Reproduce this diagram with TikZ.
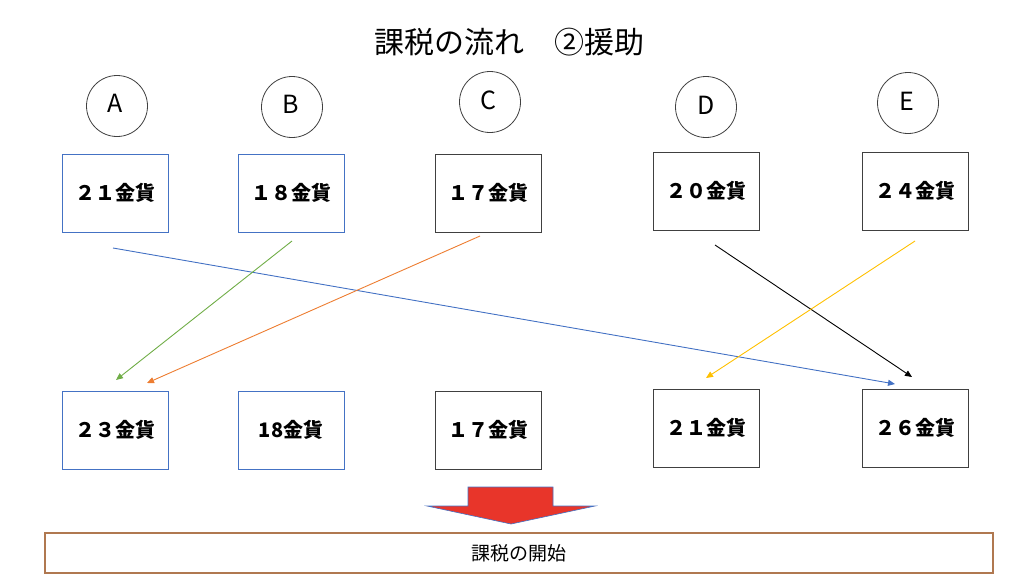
\documentclass[tikz,border=0pt]{standalone}
\usepackage{fontspec}
\setmainfont{Noto Sans CJK JP}
\usetikzlibrary{arrows.meta}
\definecolor{oblue}{HTML}{4472C4}
\definecolor{ogreen}{HTML}{70AD47}
\definecolor{oorange}{HTML}{ED7D31}
\definecolor{oyellow}{HTML}{FFC000}
\definecolor{ogray}{HTML}{404040}
\definecolor{obrown}{HTML}{B07850}
\definecolor{ored}{HTML}{E8352A}
\tikzset{
  gold/.style={draw=#1, line width=0.9pt, minimum width=106pt, minimum height=78pt, inner sep=0pt,
    font=\bfseries\fontsize{20}{20}\selectfont},
  person/.style={draw=ogray, line width=0.8pt, circle, minimum size=61pt, inner sep=0pt},
  plabel/.style={font=\fontsize{25}{25}\selectfont},
  flow/.style={draw=#1, line width=0.9pt, -{Triangle[length=7pt,width=6pt]}},
}
\begin{document}
\begin{tikzpicture}[x=1pt,y=-1pt]
\useasboundingbox (0,0) rectangle (1024,582);

\node[font=\fontsize{30}{30}\selectfont] (title) at (509,42) {課税の流れ　②援助};

% people
\node[person] (pA) at (117,106) {};
\node[person] (pB) at (292,107) {};
\node[person] (pC) at (490,102) {};
\node[person] (pD) at (706,107) {};
\node[person] (pE) at (908,103) {};
\node[plabel] (lA) at (115,103) {A};
\node[plabel] (lB) at (291,104) {B};
\node[plabel] (lC) at (488,100) {C};
\node[plabel] (lD) at (706,105) {D};
\node[plabel] (lE) at (907,101) {E};

% top boxes
\node[gold=oblue] (tA) at (115,193) {２１金貨};
\node[gold=oblue] (tB) at (291,193) {１８金貨};
\node[gold=ogray] (tC) at (488.5,193) {１７金貨};
\node[gold=ogray] (tD) at (706.5,191) {２０金貨};
\node[gold=ogray] (tE) at (915,191) {２４金貨};

% bottom boxes
\node[gold=oblue] (bA) at (115,430) {２３金貨};
\node[gold=oblue] (bB) at (291,430) {18金貨};
\node[gold=ogray] (bC) at (488.5,430) {１７金貨};
\node[gold=ogray] (bD) at (706.5,428) {２１金貨};
\node[gold=ogray] (bE) at (915,428) {２６金貨};

% connector ends
\coordinate (sA) at (113,248);
\coordinate (sB) at (292,241);
\coordinate (sC) at (480,236);
\coordinate (sD) at (715,245);
\coordinate (sE) at (915,241);
\coordinate (eA1) at (116,380);
\coordinate (eA2) at (147,383);
\coordinate (eD) at (706,378);
\coordinate (eE1) at (895,384);
\coordinate (eE2) at (912,377);

\draw[flow=oblue] (sA) -- (eE1);
\draw[flow=ogreen] (sB) -- (eA1);
\draw[flow=oorange] (sC) -- (eA2);
\draw[flow=black] (sD) -- (eE2);
\draw[flow=oyellow] (sE) -- (eD);

% red down arrow
\draw[fill=ored, draw=oblue, line width=0.6pt] (468,487) -- (553,487) -- (553,506) -- (595,506)
  -- (511,524) -- (427,506) -- (468,506) -- cycle;

% bottom banner
\node[draw=obrown, line width=1.1pt, minimum width=948pt, minimum height=40pt, inner sep=0pt,
  font=\fontsize{19}{19}\selectfont] (start) at (519,553) {課税の開始};
\end{tikzpicture}
\end{document}
